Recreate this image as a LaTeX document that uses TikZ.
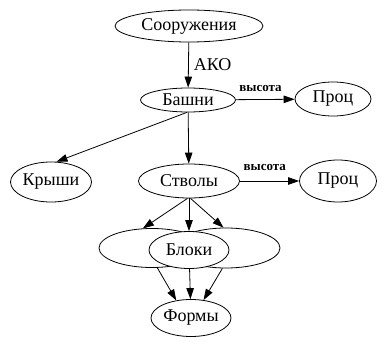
\documentclass[tikz,border=0pt]{standalone}
\usepackage{fontspec}
\setmainfont{Liberation Serif}
\usetikzlibrary{shapes.geometric,arrows.meta}
\begin{document}
\begin{tikzpicture}[x=1pt,y=-1pt,
  ell/.style={draw,ellipse,line width=0.8pt,inner sep=0pt,font=\fontsize{18}{21}\selectfont},
  arr/.style={line width=0.8pt,-{Triangle[length=11pt,width=7.5pt]}},
  lbl/.style={font=\fontsize{13}{15}\selectfont\bfseries}]
\useasboundingbox (0,0) rectangle (386,345);
\node[ell,minimum width=148pt,minimum height=32pt] (soor) at (189,26) {Сооружения};
\node[ell,minimum width=95pt,minimum height=24pt] (bash) at (188,100) {Башни};
\node[ell,minimum width=76pt,minimum height=34pt] (proc1) at (333,99) {Проц};
\node[ell,minimum width=81pt,minimum height=40pt] (kry) at (51,182) {Крыши};
\node[ell,minimum width=101pt,minimum height=34pt] (stv) at (189,181) {Стволы};
\node[ell,minimum width=77pt,minimum height=42pt] (proc2) at (338,181) {Проц};
\node[ell,minimum width=106pt,minimum height=39pt] (lb) at (152,248) {};
\node[ell,minimum width=108pt,minimum height=40pt] (rb) at (226,248) {};
\node[ell,fill=white,minimum width=80pt,minimum height=37pt] (blk) at (189,250) {Блоки};
\node[ell,minimum width=80pt,minimum height=37pt] (form) at (191,318) {Формы};
\draw[arr] (soor) -- node[right,font=\fontsize{18}{21}\selectfont,inner sep=5pt] {АКО} (bash);
\draw[arr] (bash) -- node[lbl,above=4pt,pos=0.42] {высота} (proc1);
\draw[arr] (bash.265) -- (kry.75);
\draw[arr] (bash) -- (stv);
\draw[arr] (stv) -- node[lbl,above=7pt,pos=0.42] {высота} (proc2);
\draw[arr] (stv.265) -- (lb.115);
\draw[arr] (stv) -- (blk);
\draw[arr] (stv.-85) -- (rb.97);
\draw[arr] (lb.-75) -- (form.130);
\draw[arr] (blk) -- (form);
\draw[arr] (rb.-100) -- (form.55);
\end{tikzpicture}
\end{document}
